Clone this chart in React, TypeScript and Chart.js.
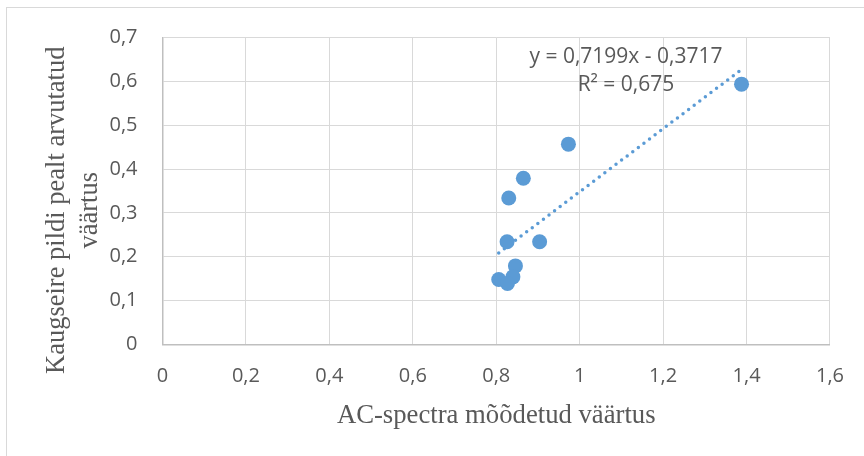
import React, { useEffect, useRef } from "react";
import { Chart, registerables } from "chart.js";

Chart.register(...registerables);

// Measured points (AC-spectra vs. remote sensing)
const X_VALUES = [0.973, 0.865, 0.830, 0.826, 0.904, 0.846, 0.840, 0.806, 0.827, 1.388];
const Y_VALUES = [0.457, 0.379, 0.334, 0.234, 0.234, 0.179, 0.154, 0.148, 0.139, 0.594];

// Trendline (linear): y = SLOPE * x + INTERCEPT
const SLOPE = 0.7199;
const INTERCEPT = -0.3717;
const TREND_X = [0.806, 1.388];
const EQUATION_LINES = ["y = 0,7199x - 0,3717", "R² = 0,675"];

const X_TICK_LABELS = ["0", "0,2", "0,4", "0,6", "0,8", "1", "1,2", "1,4", "1,6"];
const Y_TICK_LABELS = ["0", "0,1", "0,2", "0,3", "0,4", "0,5", "0,6", "0,7"];

const X_TITLE = "AC-spectra mõõdetud väärtus";
const Y_TITLE = ["Kaugseire pildi pealt arvutatud", "väärtus"];

const BLUE = "#5B9BD5";
const TEXT = "#595959";
const TICK_FONT = "'Open Sans', sans-serif";
const TITLE_FONT = "'Liberation Serif', 'Times New Roman', serif";

export default function App() {
  const ref = useRef<HTMLCanvasElement | null>(null);

  useEffect(() => {
    if (!ref.current) return;
    const points = X_VALUES.map((x, i) => ({ x, y: Y_VALUES[i] }));
    const trend = TREND_X.map((x) => ({ x, y: SLOPE * x + INTERCEPT }));

    const frame = {
      id: "frame",
      beforeDraw(chart: any) {
        const ctx = chart.ctx;
        ctx.save();
        ctx.fillStyle = "#ffffff";
        ctx.fillRect(0, 0, chart.width, chart.height);
        ctx.strokeStyle = "#d9d9d9";
        ctx.lineWidth = 1;
        ctx.strokeRect(6.5, 7.5, chart.width + 20, chart.height + 20);
        ctx.restore();
      },
      afterDraw(chart: any) {
        // y-axis title (two lines, rotated), centred slightly below the plot middle
        const ctx = chart.ctx;
        const ys = chart.scales.y;
        const cy = ys.getPixelForValue(0.306);
        ctx.save();
        ctx.fillStyle = TEXT;
        ctx.font = `26.5px ${TITLE_FONT}`;
        ctx.textAlign = "center";
        ctx.textBaseline = "middle";
        ctx.translate(57, cy);
        ctx.rotate(-Math.PI / 2);
        Y_TITLE.forEach((t, i) => ctx.fillText(t, 0, i * 33.5));
        ctx.restore();
      },
      afterDatasetsDraw(chart: any) {
        const ctx = chart.ctx;
        const xs = chart.scales.x;
        const ys = chart.scales.y;
        const cx = xs.getPixelForValue(1.111);
        const cy = ys.getPixelForValue(0.656);
        ctx.save();
        ctx.fillStyle = TEXT;
        ctx.font = `21px ${TICK_FONT}`;
        ctx.textAlign = "center";
        ctx.textBaseline = "middle";
        EQUATION_LINES.forEach((t, i) => ctx.fillText(t, cx, cy + i * 28.5));
        ctx.restore();
      },
    };

    const chart = new Chart(ref.current, {
      type: "scatter",
      data: {
        datasets: [
          {
            type: "line",
            data: trend,
            borderColor: BLUE,
            borderWidth: 3.5,
            borderDash: [0, 7],
            borderCapStyle: "round",
            pointRadius: 0,
            fill: false,
            order: 2,
          } as any,
          {
            data: points,
            backgroundColor: BLUE,
            borderColor: BLUE,
            pointRadius: 7.5,
            pointBorderWidth: 0,
            order: 1,
          },
        ],
      },
      options: {
        responsive: false,
        animation: false,
        events: [],
        layout: { padding: { left: 0, top: 37.7, right: 32.5, bottom: 0 } },
        plugins: { legend: { display: false }, tooltip: { enabled: false } },
        scales: {
          x: {
            type: "linear",
            min: 0,
            max: 1.6,
            ticks: {
              stepSize: 0.2,
              padding: 20,
              color: TEXT,
              font: { family: TICK_FONT, size: 20 },
              callback: (_v: any, i: number) => X_TICK_LABELS[i],
            },
            grid: { color: "#d9d9d9", lineWidth: 1, drawTicks: false },
            border: { color: "#bfbfbf", width: 1.5 },
            title: {
              display: true,
              text: X_TITLE,
              color: TEXT,
              font: { family: TITLE_FONT, size: 26.7 },
              padding: { top: 4, bottom: 24 },
            },
            afterFit: (s: any) => {
              s.height = 111.7;
            },
          },
          y: {
            type: "linear",
            min: 0,
            max: 0.7,
            ticks: {
              stepSize: 0.1,
              padding: 25,
              color: TEXT,
              font: { family: TICK_FONT, size: 20 },
              callback: (_v: any, i: number) => Y_TICK_LABELS[i],
            },
            grid: { color: "#d9d9d9", lineWidth: 1, drawTicks: false },
            border: { color: "#bfbfbf", width: 1.5 },
            title: { display: false },
            afterFit: (s: any) => {
              s.width = 162.5;
            },
          },
        },
      } as any,
      plugins: [frame],
    });
    return () => chart.destroy();
  }, []);

  return (
    <div style={{ position: "fixed", left: 0, top: 0, width: 864, height: 456 }}>
      <canvas ref={ref} width={864} height={456} />
    </div>
  );
}
